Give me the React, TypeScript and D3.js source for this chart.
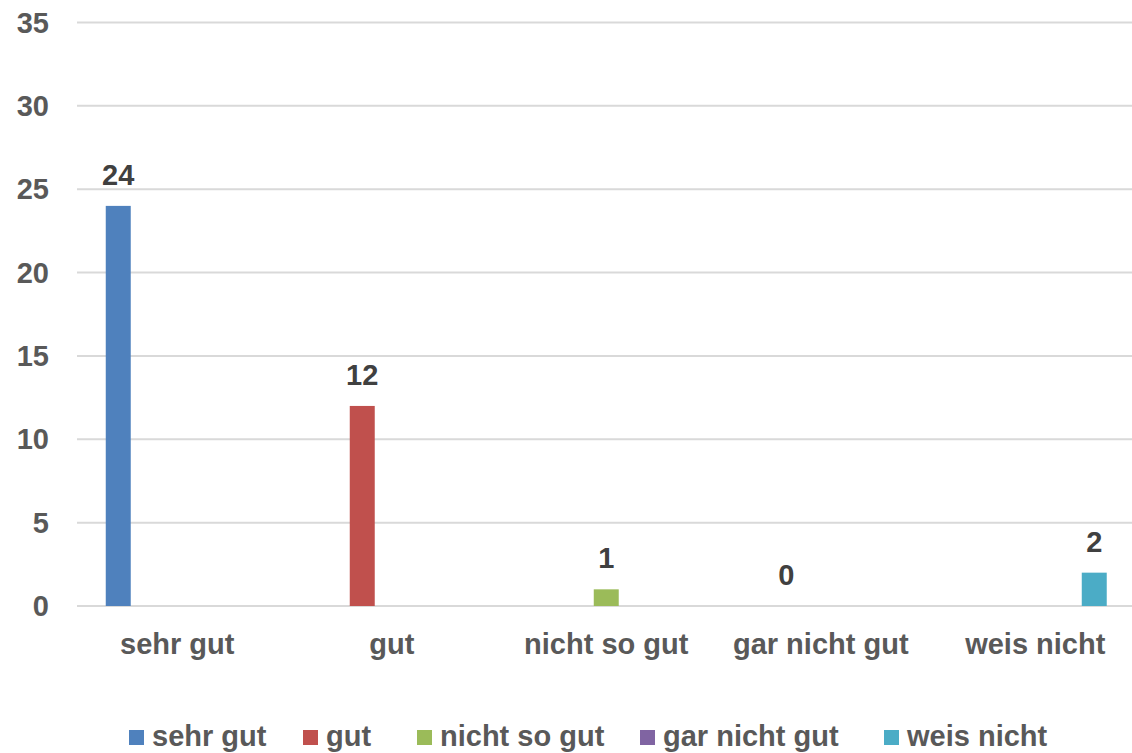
import * as d3 from "d3";

// Data
const categories = ["sehr gut", "gut", "nicht so gut", "gar nicht gut", "weis nicht"];
const seriesNames = ["sehr gut", "gut", "nicht so gut", "gar nicht gut", "weis nicht"];
// each series only has a value in its own category
const seriesValues = [24, 12, 1, 0, 2];
const seriesColors = ["#4f81bd", "#c0504d", "#9bbb59", "#8064a2", "#4bacc6"];
const yTicks = [0, 5, 10, 15, 20, 25, 30, 35];

// Layout
const width = 1132;
const height = 753;
const plotLeft = 70;
const plotRight = 1142.5;
const gridLeft = 77;
const yBottom = 606;
const yTop = 22.5;
const legendX = [129, 303, 417, 640, 884];
const zeroLabelDx = -64; // the "0" label was dragged left in the original
const font = "'Liberation Sans', Arial, sans-serif";

export default function App() {
  const y = d3.scaleLinear().domain([0, 35]).range([yBottom, yTop]);
  const x0 = d3.scaleBand<string>().domain(categories).range([plotLeft, plotRight]);
  const x1 = d3
    .scaleBand<string>()
    .domain(seriesNames)
    .range([0, x0.bandwidth()])
    .paddingInner(0.153)
    .paddingOuter(1.212);

  const bars = seriesNames.map((name, i) => {
    const cat = categories[i];
    const v = seriesValues[i];
    const bx = (x0(cat) || 0) + (x1(name) || 0);
    return { name, v, bx, color: seriesColors[i] };
  });

  return (
    <svg
      width={width}
      height={height}
      style={{ position: "absolute", left: 0, top: 0, background: "#fff" }}
      fontFamily={font}
    >
      {/* Gridlines */}
      {yTicks.map((t) => (
        <line
          key={`g-${t}`}
          x1={gridLeft}
          x2={width}
          y1={y(t)}
          y2={y(t)}
          stroke="#d9d9d9"
          strokeWidth={2}
        />
      ))}

      {/* Y tick labels */}
      {yTicks.map((t) => (
        <text
          key={`t-${t}`}
          x={49}
          y={y(t) + 10}
          textAnchor="end"
          fontSize={29}
          fontWeight="bold"
          fill="#595959"
        >
          {t}
        </text>
      ))}

      {/* Bars */}
      {bars.map((b) => (
        <rect
          key={`b-${b.name}`}
          x={b.bx}
          y={y(b.v)}
          width={x1.bandwidth()}
          height={yBottom - y(b.v)}
          fill={b.color}
        />
      ))}

      {/* Data labels */}
      {bars.map((b) => (
        <text
          key={`l-${b.name}`}
          x={b.bx + x1.bandwidth() / 2 + (b.v === 0 ? zeroLabelDx : 0)}
          y={y(b.v) - 21}
          textAnchor="middle"
          fontSize={29}
          fontWeight="bold"
          fill="#404040"
        >
          {b.v}
        </text>
      ))}

      {/* Category labels */}
      {categories.map((c) => (
        <text
          key={`c-${c}`}
          x={(x0(c) || 0) + x0.bandwidth() / 2}
          y={654}
          textAnchor="middle"
          fontSize={29}
          fontWeight="bold"
          fill="#595959"
        >
          {c}
        </text>
      ))}

      {/* Legend */}
      {seriesNames.map((s, i) => (
        <g key={`lg-${s}`} transform={`translate(${legendX[i]},0)`}>
          <rect x={0} y={730} width={15} height={15} fill={seriesColors[i]} />
          <text x={23} y={746} fontSize={29} fontWeight="bold" fill="#595959">
            {s}
          </text>
        </g>
      ))}
    </svg>
  );
}
